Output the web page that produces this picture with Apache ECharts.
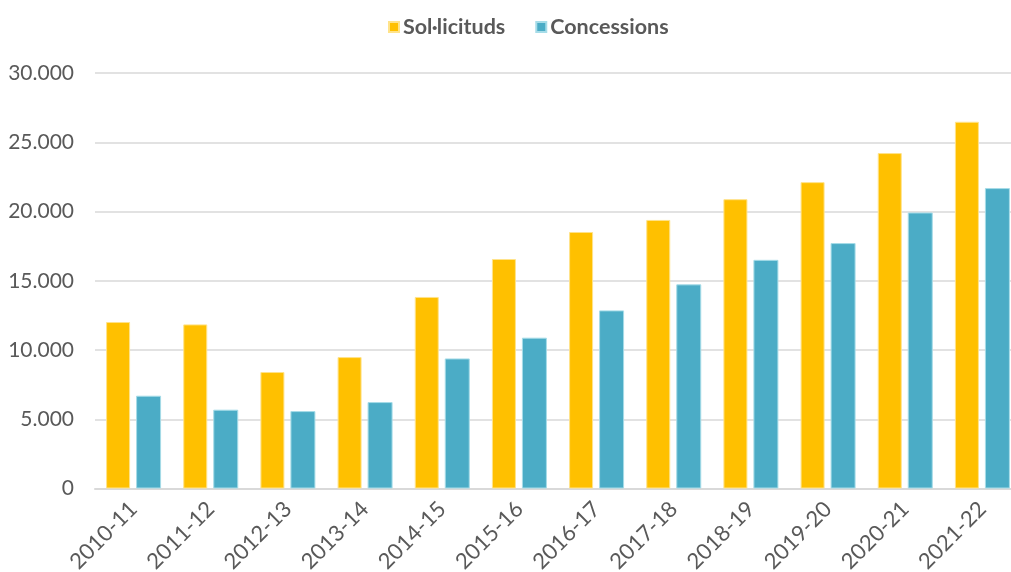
<!DOCTYPE html>
<html><head><meta charset="utf-8">
<script src="https://cdn.jsdelivr.net/npm/echarts@6/dist/echarts.min.js"></script>
<style>html,body{margin:0;padding:0;background:#fff;overflow:hidden}#c{width:1011px;height:572px}</style>
</head><body><div id="c"></div>
<script>
const categories = ['2010-11','2011-12','2012-13','2013-14','2014-15','2015-16','2016-17','2017-18','2018-19','2019-20','2020-21','2021-22'];
const solicituds = [12020, 11850, 8410, 9490, 13830, 16570, 18520, 19390, 20890, 22120, 24220, 26480];
const concessions = [6700, 5690, 5590, 6240, 9390, 10890, 12860, 14740, 16510, 17720, 19930, 21690];
const seriesNames = ['Sol·licituds', 'Concessions'];
const colors = ['#FFC000', '#4BACC6'];
const fmt = v => v === 0 ? '0' : String(v).replace(/\B(?=(\d{3})+(?!\d))/g, '.');

const chart = echarts.init(document.getElementById('c'), null, {renderer:'canvas'});
chart.setOption({
  animation: false,
  textStyle: {fontFamily: 'Lato'},
  legend: {
    top: 11, left: 383,
    itemWidth: 10, itemHeight: 10, itemGap: 30, icon: 'rect',
    textStyle: {fontFamily: 'Lato', fontWeight: 'bold', fontSize: 21.5, color: '#595959', padding: [0,0,0,-1]},
    data: seriesNames
  },
  grid: {left: 95, top: 73, width: 926, bottom: 83.5, containLabel: false, outerBoundsMode: 'none'},
  xAxis: {
    type: 'category', data: categories,
    axisLine: {lineStyle: {color: '#d9d9d9', width: 2}},
    axisTick: {show: false},
    axisLabel: {rotate: 45, fontSize: 22, color: '#595959', fontFamily: 'Lato', margin: 17, interval: 0}
  },
  yAxis: {
    type: 'value', min: 0, max: 30000, interval: 5000,
    axisLine: {show: false}, axisTick: {show: false},
    splitLine: {lineStyle: {color: '#d9d9d9', width: 1.5}},
    axisLabel: {fontSize: 21, color: '#595959', fontFamily: 'Lato', margin: 21, formatter: fmt}
  },
  series: [
    {name: seriesNames[0], type: 'bar', data: solicituds, barWidth: 24, barGap: '25%',
     itemStyle: {color: colors[0], borderColor: '#FFE38A', borderWidth: 1}},
    {name: seriesNames[1], type: 'bar', data: concessions, barWidth: 25, barGap: '25%',
     itemStyle: {color: colors[1], borderColor: '#A6DCE8', borderWidth: 1}}
  ]
});
</script></body></html>
